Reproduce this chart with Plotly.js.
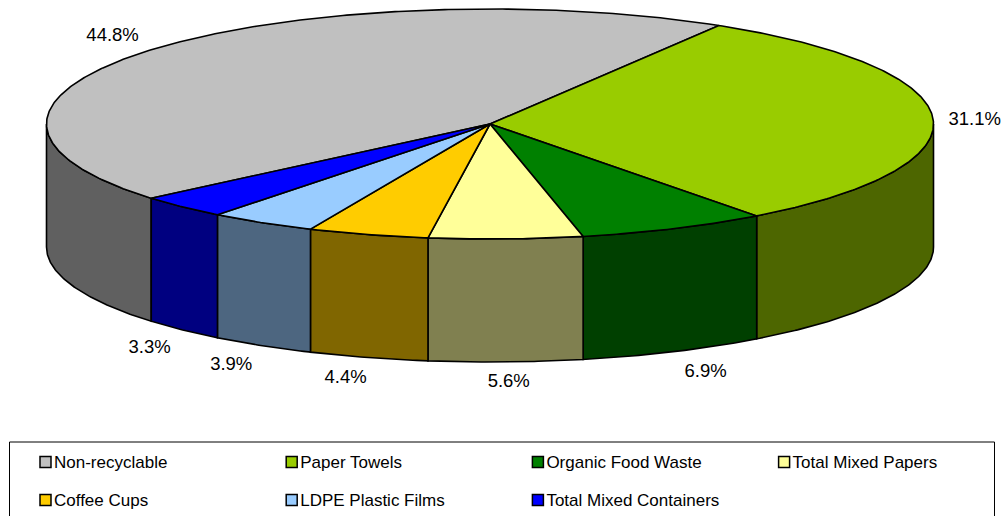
<!DOCTYPE html>
<html>
<head>
<meta charset="utf-8">
<script src="https://cdn.plot.ly/plotly-3.0.1.min.js"></script>
<style>html,body{margin:0;padding:0;background:#fff;overflow:hidden}#chart{width:1001px;height:516px}</style>
</head>
<body>
<div id="chart"></div>
<script>
const categories = ["Non-recyclable","Paper Towels","Organic Food Waste","Total Mixed Papers","Coffee Cups","LDPE Plastic Films","Total Mixed Containers"];
const shares = [44.8,31.1,6.9,5.6,4.4,3.9,3.3];
const topColors = ["#C0C0C0","#99CC00","#008000","#FFFF99","#FFCC00","#99CCFF","#0000FF"];
const wallColors = ["#606060","#4D6600","#004000","#808050","#806600","#4D6680","#000080"];
const labelReachX = [1.124,1.09,1.16,1.06,1.2,1.145,1.114];
const labelReachY = [1.2,1.0,1.18,1.16,1.166,1.18,1.2];

const cx = 490, cy = 124, rx = 443.5, ry = 115, depth = 123;
const firstAngle = 229.8;
const rad = d => d * Math.PI / 180;
const px = a => cx + rx * Math.sin(rad(a));
const py = a => cy - ry * Math.cos(rad(a));
function arc(a, b) {
  const n = Math.max(2, Math.ceil(Math.abs(b - a) * 2));
  const out = [];
  for (let i = 0; i <= n; i++) out.push(a + (b - a) * i / n);
  return out;
}
const edge = {color:"#000", width:1.6};
const total = shares.reduce((s, v) => s + v, 0);
const spans = [];
let run = firstAngle;
shares.forEach(v => { const sweep = v / total * 360; spans.push([run, run + sweep]); run += sweep; });

const traces = [];
// Side walls: only the front half of the cylinder (90 deg to 270 deg) shows
spans.forEach((s, i) => {
  [[s[0], s[1]], [s[0] - 360, s[1] - 360]].forEach(r => {
    const a = Math.max(r[0], 90), b = Math.min(r[1], 270);
    if (b <= a) return;
    const t = arc(a, b), back = t.slice().reverse();
    traces.push({
      type:"scatter", mode:"lines", fill:"toself", fillcolor:wallColors[i], line:edge,
      x:[...t.map(px), ...back.map(px), px(a)],
      y:[...t.map(py), ...back.map(v => py(v) + depth), py(a)],
      hoverinfo:"skip", showlegend:false
    });
  });
});
// Top faces
spans.forEach((s, i) => {
  const t = arc(s[0], s[1]);
  traces.push({
    type:"scatter", mode:"lines", fill:"toself", fillcolor:topColors[i], line:edge,
    x:[cx, ...t.map(px), cx], y:[cy, ...t.map(py), cy],
    name:categories[i], hoverinfo:"name", showlegend:false
  });
});
// Percentage labels
const mids = spans.map(s => (s[0] + s[1]) / 2 % 360);
traces.push({
  type:"scatter", mode:"text",
  x:mids.map((m, i) => 2 + cx + rx * labelReachX[i] * Math.sin(rad(m))),
  y:mids.map((m, i) => 2 + cy - ry * labelReachY[i] * Math.cos(rad(m)) + (m > 90 && m < 270 ? depth : 0)),
  text:shares.map(v => v.toFixed(1) + "%"),
  textposition:"middle center",
  textfont:{family:"Liberation Sans, Arial, sans-serif", size:18.5, color:"#000"},
  hoverinfo:"skip", showlegend:false, cliponaxis:false
});
// Legend grid, filled by column then wrapped to a second row
const legendCols = 4, legendX0 = 45.5, legendDX = 246.2, legendY0 = 462, legendDY = 38;
const lx = categories.map((_, i) => legendX0 + (i % legendCols) * legendDX);
const ly = categories.map((_, i) => legendY0 + Math.floor(i / legendCols) * legendDY);
traces.push({
  type:"scatter", mode:"markers", x:lx, y:ly,
  marker:{symbol:"square", size:11, color:topColors, line:{color:"#000", width:1.5}},
  hoverinfo:"skip", showlegend:false
});
traces.push({
  type:"scatter", mode:"text", x:lx.map(v => v + 8.5), y:ly.map(v => v + 2), text:categories,
  textposition:"middle right",
  textfont:{family:"Liberation Sans, Arial, sans-serif", size:17, color:"#000"},
  hoverinfo:"skip", showlegend:false, cliponaxis:false
});

const layout = {
  width:1001, height:516,
  margin:{l:0,r:0,t:0,b:0},
  paper_bgcolor:"#fff", plot_bgcolor:"#fff",
  showlegend:false,
  xaxis:{range:[0,1001], visible:false, fixedrange:true},
  yaxis:{range:[516,0], visible:false, fixedrange:true},
  shapes:[{type:"rect", xref:"x", yref:"y", x0:9.5, x1:994.5, y0:442, y1:530,
           line:{color:"#000", width:1}, fillcolor:"rgba(0,0,0,0)", layer:"below"}]
};
Plotly.newPlot("chart", traces, layout, {displayModeBar:false, responsive:false});
</script>
</body>
</html>
